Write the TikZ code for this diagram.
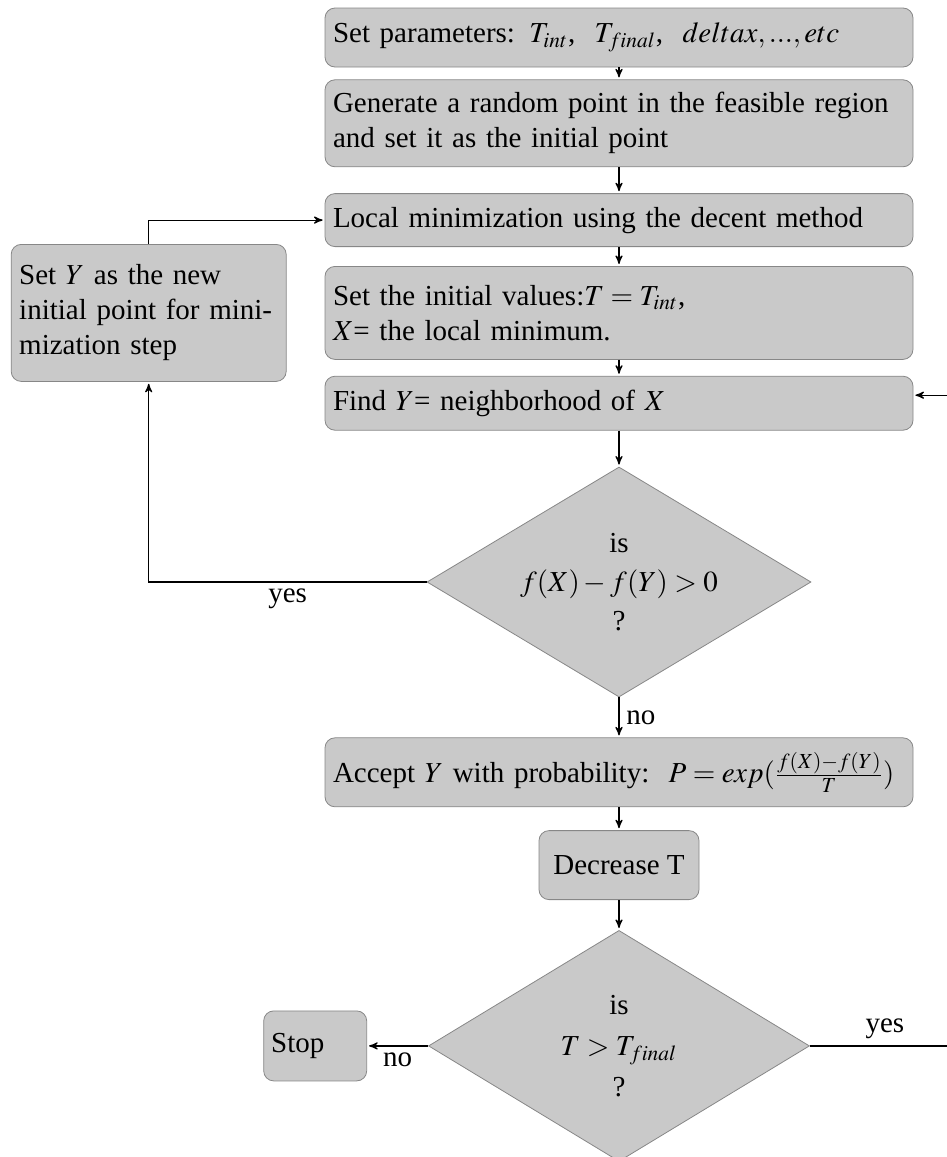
\documentclass[tikz,border=0pt]{standalone}
\usepackage{mathptmx}
\usepackage{amsmath}
\usepackage[no-math]{fontspec}
\setmainfont{Liberation Serif}
\usepackage{tikz}
\usetikzlibrary{shapes, arrows, calc, positioning}
\definecolor{boxgray}{RGB}{201,201,201}
\definecolor{edgegray}{RGB}{135,135,135}

\begin{document}
\begin{tikzpicture}[->,>=stealth',shorten >=1pt,auto,semithick,x=0.5pt,y=-0.5pt,font=\fontsize{14.5}{17.5}\selectfont]
	\tikzset{block/.style={rectangle, rounded corners=5pt, draw=edgegray, thin, fill=boxgray, inner xsep=4pt, inner ysep=2pt, align=left, text width=286pt},
		smallblock/.style={block, text width=, align=center},
		decision/.style={diamond, draw=edgegray, thin, fill=boxgray, inner sep=0pt, minimum width=192pt, minimum height=115pt}}
	\useasboundingbox (0,0) rectangle (947,1157);
	\node[block, minimum height=29.5pt] (0) at (619,37.5) {Set parameters: $T_{int}$,\ \ $T_{final}$,\ \ $deltax,...,etc$};
	\node[block, minimum height=43.5pt] (1) [below=6pt of 0] {Generate a random point in the feasible region\\and set it as the initial point};
	\node[block, minimum height=26.5pt] (2) [below=13pt of 1] {Local minimization using the decent method};
	\node[block, minimum height=46.5pt] (3) [below=9.5pt of 2] {Set the initial values:$T=T_{int}$,\\$X$= the local minimum.};
	\node[block, minimum height=27pt] (4) [below=8pt of 3] {Find $Y$= neighborhood of $X$};
	\node[decision, label={[align=center]center:{is\\[2pt]$f(X)-f(Y)>0$\\[2pt]?}}] (5) [below=18pt of 4] {};
	\node[block, minimum height=34.5pt] (6) [below=20pt of 5] {Accept $Y$ with probability:\ \ $P=exp(\frac{f(X)-f(Y)}{T})$};
	\node[smallblock, minimum width=80pt, minimum height=34.5pt] (7) [below=11.5pt of 6] {Decrease T};
	\node[decision, minimum width=190.5pt, minimum height=115.5pt, label={[align=center]center:{is\\[3pt]$T>T_{final}$\\[3pt]?}}] (8) [below=15pt of 7] {};
	\node[block, text width=44pt, inner xsep=3.75pt, minimum height=35pt] (9) [left=30.5pt of 8] {Stop};
	\node[block, text width=129.5pt, minimum height=68.5pt] (10) [left=19pt of 3] {Set $Y$ as the new\\initial point for mini-\\mization step};
	\coordinate (r) at ([xshift=75pt]8.east);
	\path
		(0) edge (1)
		(1) edge (2)
		(2) edge (3)
		(3) edge (4)
		(4) edge (5)
		(5) edge node[right] {no} (6)
		(6) edge (7)
		(7) edge (8)
		(8) edge node[below] {no} (9);
	\draw (5.west) -| node[pos=0.25, below] {yes} (10.south);
	\draw (10.north) |- (2.west);
	\draw (8.east) -- node[above] {yes} (r) |- ([yshift=4pt]4.east);
\end{tikzpicture}
\end{document}
